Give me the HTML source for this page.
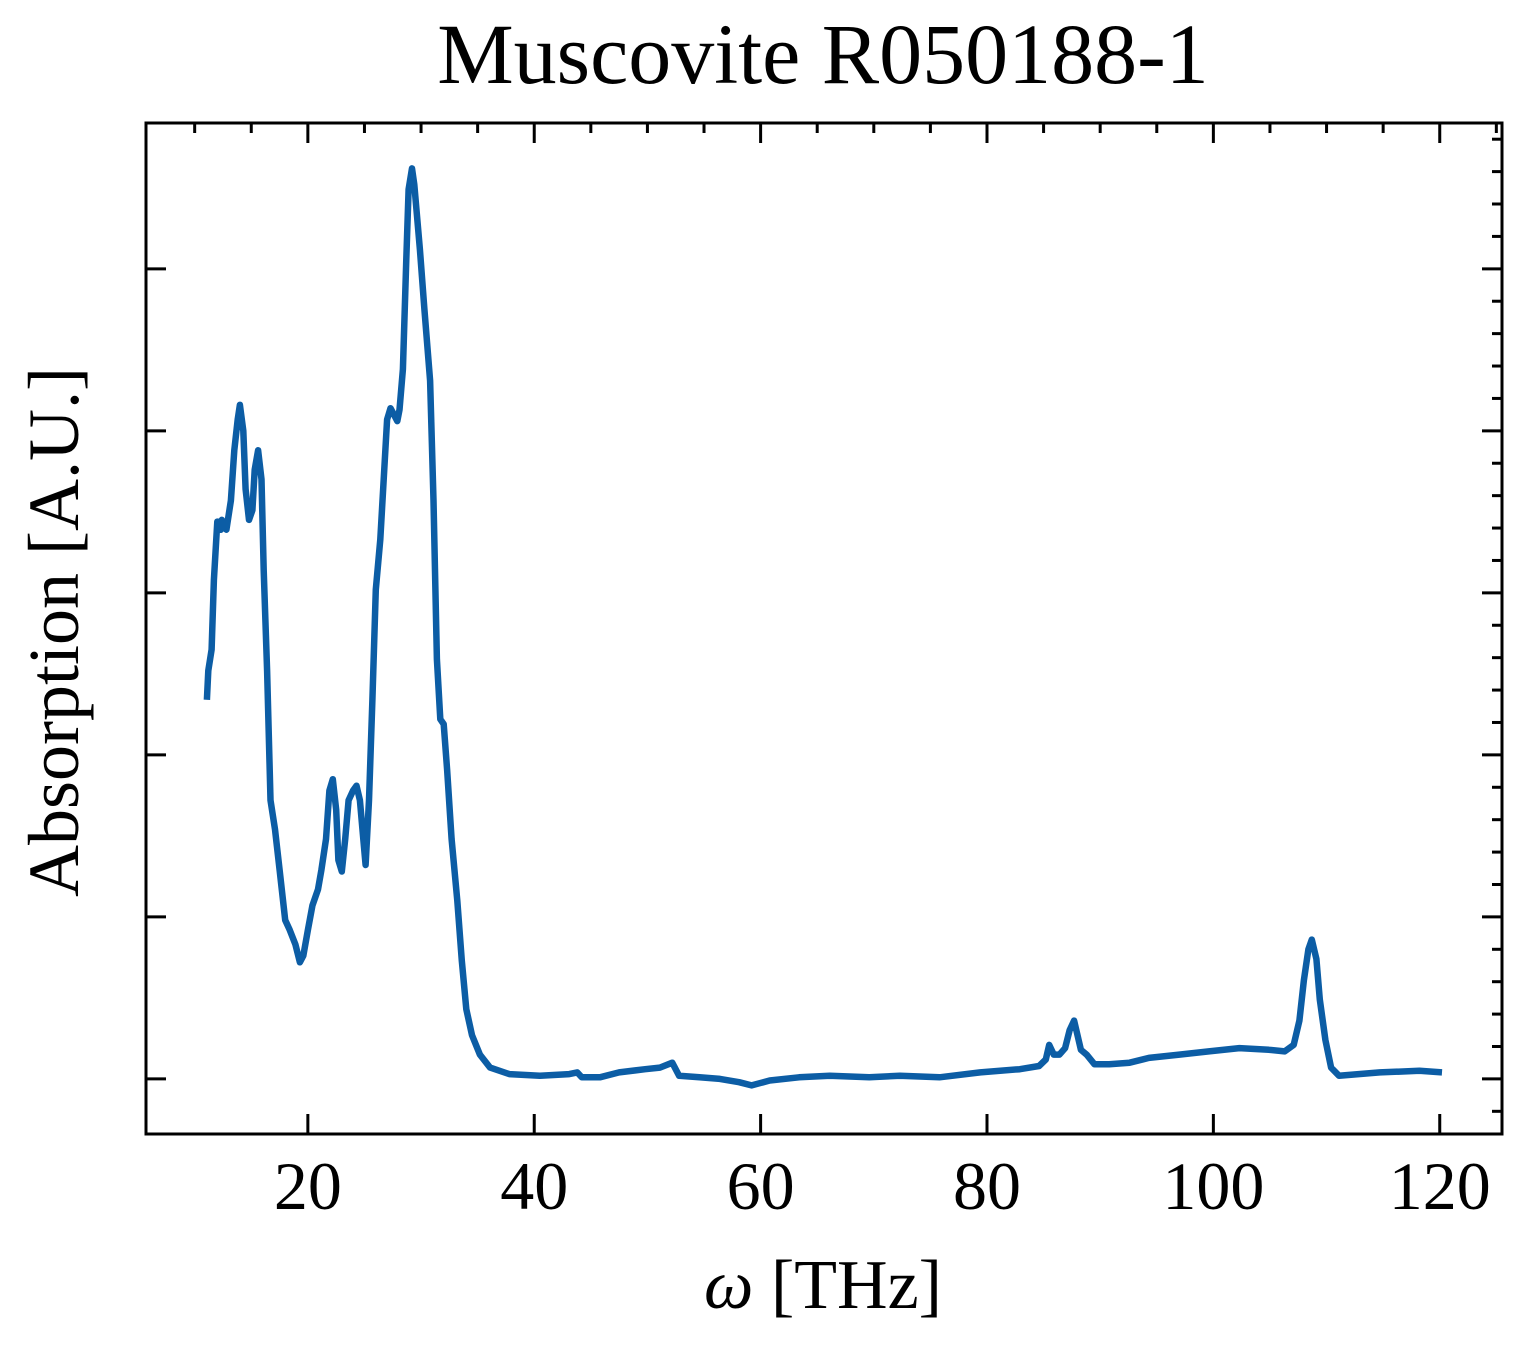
<!DOCTYPE html>
<html><head><meta charset="utf-8"><style>
html,body{margin:0;padding:0;background:#fff;}
svg text{font-family:"Liberation Serif",serif;fill:#000;}
</style></head><body>
<svg id="chart" width="1527" height="1345" viewBox="0 0 1527 1345" xmlns="http://www.w3.org/2000/svg">
<text x="823" y="83" font-size="86" text-anchor="middle">Muscovite R050188-1</text>
<text x="823" y="1308" font-size="70" text-anchor="middle"><tspan font-style="italic">ω</tspan> [THz]</text>
<text transform="translate(78,632) rotate(-90)" font-size="72" text-anchor="middle">Absorption [A.U.]</text>
<g id="ticks"></g>
<path id="series" fill="none" stroke="#0C5DA5" stroke-width="6.5" stroke-linejoin="round"/>
<rect x="146" y="123" width="1356" height="1011" fill="none" stroke="#000" stroke-width="3"/>
</svg>
<script>
const freqs=[11.08,11.2,11.5,11.7,12.0,12.3,12.4,12.8,13.2,13.5,13.8,14.0,14.3,14.5,14.8,15.1,15.3,15.6,15.9,16.1,16.4,16.7,17.1,17.5,18.0,18.4,18.9,19.3,19.6,20.0,20.4,20.9,21.2,21.6,21.9,22.2,22.5,22.7,23.0,23.3,23.6,24.0,24.3,24.6,24.9,25.1,25.4,25.7,26.0,26.4,26.7,27.0,27.3,27.6,27.9,28.1,28.4,28.7,28.9,29.2,29.4,29.9,30.3,30.8,31.1,31.4,31.7,32.0,32.3,32.7,33.2,33.6,34.0,34.5,35.2,36.1,37.8,40.5,43.1,43.8,44.2,45.8,47.5,49.8,51.1,52.2,52.8,54.6,56.4,58.1,59.2,60.8,63.4,66.1,69.6,72.3,75.8,79.4,82.9,84.6,85.2,85.5,85.9,86.4,86.9,87.3,87.7,88.0,88.3,88.8,89.5,90.8,92.6,94.3,97.0,99.6,102.3,104.9,106.3,107.1,107.6,108.0,108.4,108.7,109.1,109.4,109.9,110.4,111.1,114.7,118.2,120.2];
const absorb=[2.34,2.52,2.65,3.08,3.44,3.39,3.45,3.39,3.57,3.88,4.07,4.16,4.0,3.64,3.45,3.51,3.76,3.88,3.70,3.14,2.52,1.72,1.54,1.29,0.98,0.92,0.83,0.72,0.76,0.92,1.07,1.17,1.29,1.48,1.78,1.85,1.66,1.35,1.28,1.48,1.72,1.78,1.81,1.72,1.48,1.32,1.72,2.34,3.02,3.33,3.70,4.07,4.14,4.10,4.06,4.13,4.38,5.06,5.49,5.62,5.52,5.12,4.75,4.31,3.57,2.59,2.22,2.19,1.91,1.48,1.10,0.73,0.43,0.27,0.15,0.07,0.03,0.02,0.03,0.04,0.01,0.01,0.04,0.06,0.07,0.10,0.02,0.01,0,-0.02,-0.04,-0.01,0.01,0.02,0.01,0.02,0.01,0.04,0.06,0.08,0.12,0.21,0.15,0.15,0.19,0.30,0.36,0.27,0.18,0.15,0.09,0.09,0.10,0.13,0.15,0.17,0.19,0.18,0.17,0.21,0.36,0.61,0.80,0.86,0.74,0.49,0.24,0.07,0.02,0.04,0.05,0.04];
const xTicks=[20,40,60,80,100,120];
const yTicks=[0,1,2,3,4,5];
const X0=146,X1=1502,Y0=1134,Y1=123;
const xmin=5.7,xmax=125.5,ymin=-0.34,ymax=5.9;
const sx=v=>X0+(v-xmin)/(xmax-xmin)*(X1-X0);
const sy=v=>Y0-(v-ymin)/(ymax-ymin)*(Y0-Y1);
const NS='http://www.w3.org/2000/svg';
const g=document.getElementById('ticks');
function line(x1,y1,x2,y2,name){const l=document.createElementNS(NS,'line');l.setAttribute('x1',x1);l.setAttribute('y1',y1);l.setAttribute('x2',x2);l.setAttribute('y2',y2);l.setAttribute('stroke','#000');l.setAttribute('stroke-width','3');


g.appendChild(l);}
xTicks.forEach(v=>{const x=sx(v);line(x,Y0,x,Y0-20,'x-tick');line(x,Y1,x,Y1+20,'x-tick-top');
const t=document.createElementNS(NS,'text');t.setAttribute('x',x);t.setAttribute('y',1209);t.setAttribute('font-size','68');t.setAttribute('text-anchor','middle');t.textContent=v;


g.appendChild(t);});
for(let v=10;v<=125;v+=5){if(v%20!==0)line(sx(v),Y1,sx(v),Y1+10,'x-minor-tick-top');}
yTicks.forEach(v=>{const y=sy(v);line(X0,y,X0+20,y,'y-tick');line(X1,y,X1-20,y,'y-tick-right');});
for(let v=-0.2;v<=5.85;v+=0.2){const r=Math.round(v*10)/10;if(Math.abs(r-Math.round(r))>0.01)line(X1,sy(r),X1-10,sy(r),'y-minor-tick-right');}
document.getElementById('series').setAttribute('d',freqs.map((f,i)=>(i?'L':'M')+sx(f).toFixed(1)+','+sy(absorb[i]).toFixed(1)).join(' '));
</script>
</body></html>
